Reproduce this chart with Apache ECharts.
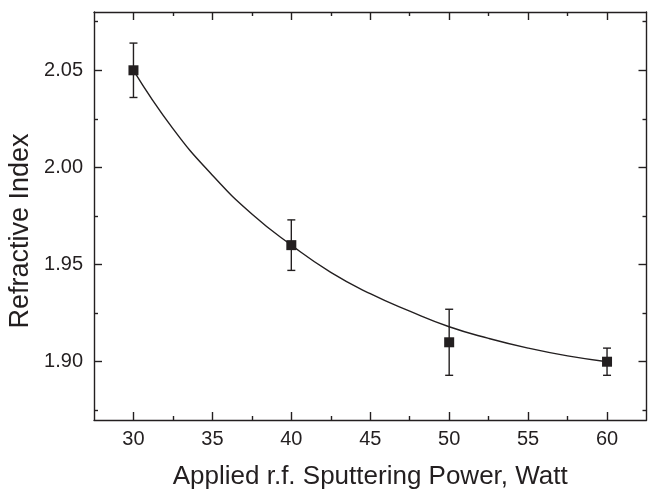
<!DOCTYPE html>
<html>
<head>
<meta charset="utf-8">
<script src="https://cdn.jsdelivr.net/npm/echarts@6/dist/echarts.min.js"></script>
<style>
  html, body { margin: 0; padding: 0; background: #fff; }
  #main { width: 648px; height: 495px; }
</style>
</head>
<body>
<div id="main"></div>
<script>
// measured points (power in W, refractive index)
var power = [30, 40, 50, 60];
var index = [2.050, 1.960, 1.910, 1.900];
var errLow = [2.036, 1.947, 1.893, 1.893];
var errHigh = [2.064, 1.973, 1.927, 1.907];

// fitted curve
var fitX = [30, 32.5, 35, 37.5, 40, 42.5, 45, 47.5, 50, 52.5, 55, 57.5, 60];
var fitY = [2.050, 2.020, 1.996, 1.976, 1.960, 1.946, 1.935, 1.926, 1.918, 1.912, 1.907, 1.903, 1.900];

// tick labels
var xTicks = [30, 35, 40, 45, 50, 55, 60];
var xMinor = [32.5, 37.5, 42.5, 47.5, 52.5, 57.5];
var yTicks = [1.90, 1.95, 2.00, 2.05];
var yMinor = [1.875, 1.925, 1.975, 2.025, 2.075];

var FONT = '"Liberation Sans", Arial, sans-serif';
var INK = '#231f20';

function pair(xs, ys) {
    var out = [];
    for (var i = 0; i < xs.length; i++) out.push([xs[i], ys[i]]);
    return out;
}

function xAx(pos, ticks, len, withLine, withLabel) {
    return {
        type: 'value', position: pos, min: 27.5, max: 62.5, interval: 2.5,
        splitLine: {show: false},
        axisLine: {show: withLine, onZero: false, lineStyle: {color: INK, width: 1.4}},
        axisTick: {show: true, inside: true, length: len, customValues: ticks,
            lineStyle: {color: INK, width: 1.4}},
        axisLabel: {show: withLabel, customValues: xTicks, margin: 9,
            color: INK, fontSize: 20, fontFamily: FONT},
        name: withLabel ? 'Applied r.f. Sputtering Power, Watt' : '',
        nameLocation: 'middle', nameGap: 44,
        nameTextStyle: {color: INK, fontSize: 26, fontFamily: FONT}
    };
}

function yAx(pos, ticks, len, withLine, withLabel) {
    return {
        type: 'value', position: pos, min: 1.87, max: 2.08, interval: 0.01,
        splitLine: {show: false},
        axisLine: {show: withLine, onZero: false, lineStyle: {color: INK, width: 1.4}},
        axisTick: {show: true, inside: true, length: len, customValues: ticks,
            lineStyle: {color: INK, width: 1.4}},
        axisLabel: {show: withLabel, customValues: yTicks, margin: 11,
            color: INK, fontSize: 20, fontFamily: FONT,
            formatter: function (v) { return v.toFixed(2); }}
    };
}

var chart = echarts.init(document.getElementById('main'));

var option = {
    animation: false,
    grid: {left: 94, right: 1.5, top: 12, bottom: 70, containLabel: false},
    xAxis: [
        xAx('bottom', xTicks, 8, true, true),
        xAx('bottom', xMinor, 4, false, false),
        xAx('top', xTicks, 8, true, false),
        xAx('top', xMinor, 4, false, false)
    ],
    yAxis: [
        yAx('left', yTicks, 8, true, true),
        yAx('left', yMinor, 4, false, false),
        yAx('right', yTicks, 8, true, false),
        yAx('right', yMinor, 4, false, false)
    ],
    graphic: [{
        type: 'text', x: 21, y: 231, rotation: Math.PI / 2,
        style: {text: 'Refractive Index', fill: INK, font: '27px ' + FONT,
            align: 'center', verticalAlign: 'middle'}
    }],
    series: [
        {
            type: 'line', data: pair(fitX, fitY), smooth: true, showSymbol: false,
            lineStyle: {color: INK, width: 1.4}, z: 2
        },
        {
            type: 'custom', z: 3,
            data: power.map(function (p, i) { return [p, errLow[i], errHigh[i]]; }),
            renderItem: function (params, api) {
                var lo = api.coord([api.value(0), api.value(1)]);
                var hi = api.coord([api.value(0), api.value(2)]);
                var w = 4;
                var st = {stroke: INK, lineWidth: 1.4};
                return {type: 'group', children: [
                    {type: 'line', shape: {x1: lo[0], y1: lo[1], x2: hi[0], y2: hi[1]}, style: st},
                    {type: 'line', shape: {x1: lo[0] - w, y1: lo[1], x2: lo[0] + w, y2: lo[1]}, style: st},
                    {type: 'line', shape: {x1: hi[0] - w, y1: hi[1], x2: hi[0] + w, y2: hi[1]}, style: st}
                ]};
            }
        },
        {
            type: 'scatter', data: pair(power, index), symbol: 'rect', symbolSize: 10,
            itemStyle: {color: INK, opacity: 1}, z: 4
        }
    ]
};

chart.setOption(option);
</script>
</body>
</html>
